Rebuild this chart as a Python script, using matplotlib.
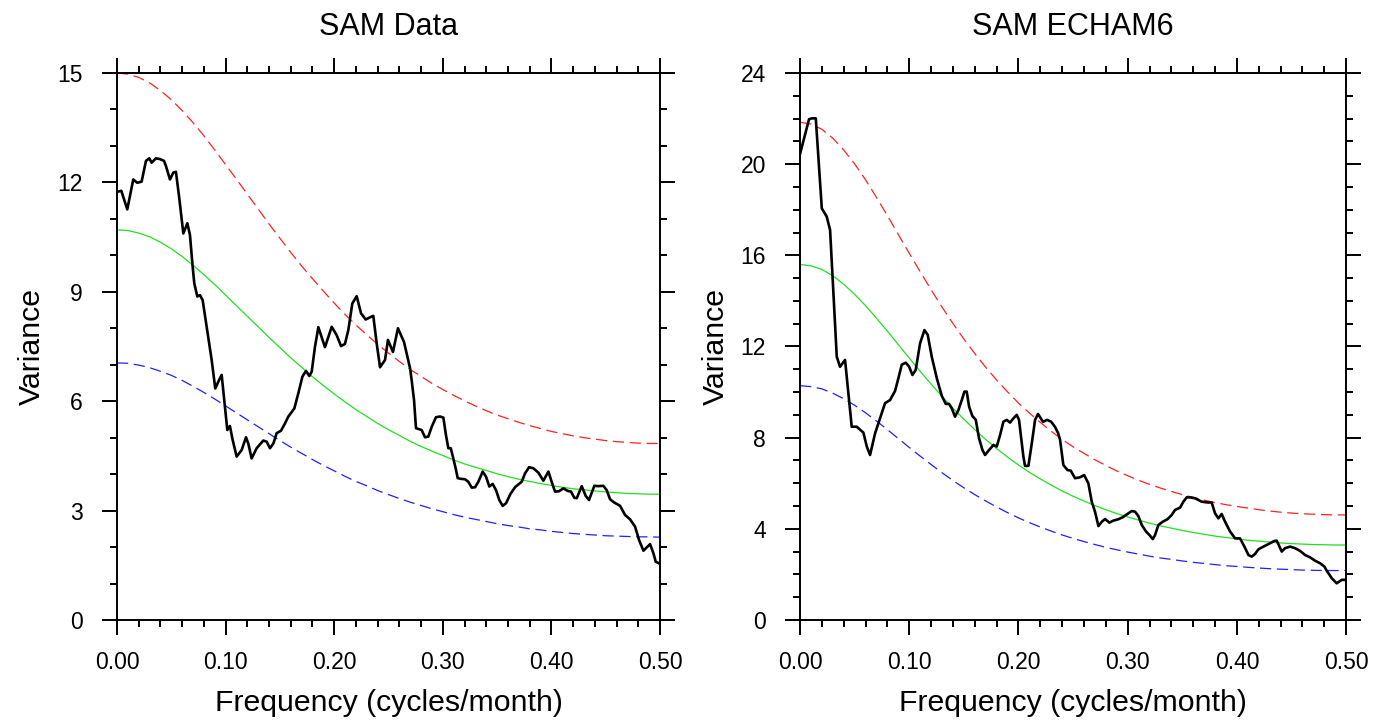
import matplotlib
matplotlib.use('Agg')
import matplotlib.pyplot as plt
from matplotlib.ticker import MultipleLocator

plt.rcParams['font.family'] = ['Liberation Sans', 'DejaVu Sans']

# frequencies for the smooth reference curves (0.00 .. 0.50 every 0.01)
curve_f = [i / 100 for i in range(51)]

# ---- SAM Data ----
data_red = [15.00, 14.97, 14.88, 14.73, 14.52, 14.27, 13.97, 13.64, 13.28, 12.89, 12.49,
            12.09, 11.68, 11.27, 10.86, 10.47, 10.08, 9.71, 9.36, 9.02, 8.69,
            8.38, 8.09, 7.82, 7.56, 7.32, 7.09, 6.87, 6.68, 6.49, 6.32,
            6.16, 6.01, 5.87, 5.74, 5.62, 5.52, 5.42, 5.33, 5.25, 5.17,
            5.11, 5.05, 5.00, 4.96, 4.92, 4.89, 4.87, 4.85, 4.84, 4.84]
data_green = [10.70, 10.68, 10.61, 10.51, 10.36, 10.18, 9.97, 9.73, 9.47, 9.20, 8.91,
              8.62, 8.33, 8.04, 7.75, 7.47, 7.19, 6.93, 6.67, 6.43, 6.20,
              5.98, 5.77, 5.58, 5.39, 5.22, 5.06, 4.90, 4.76, 4.63, 4.51,
              4.39, 4.28, 4.19, 4.10, 4.01, 3.93, 3.86, 3.80, 3.74, 3.69,
              3.64, 3.60, 3.57, 3.54, 3.51, 3.49, 3.47, 3.46, 3.45, 3.45]
data_blue = [7.05, 7.04, 6.99, 6.92, 6.82, 6.71, 6.57, 6.41, 6.24, 6.06, 5.87,
             5.68, 5.49, 5.30, 5.11, 4.92, 4.74, 4.57, 4.40, 4.24, 4.09,
             3.94, 3.80, 3.68, 3.55, 3.44, 3.33, 3.23, 3.14, 3.05, 2.97,
             2.89, 2.82, 2.76, 2.70, 2.64, 2.59, 2.55, 2.50, 2.47, 2.43,
             2.40, 2.37, 2.35, 2.33, 2.31, 2.30, 2.29, 2.28, 2.28, 2.27]

data_f = [0.0, 0.004, 0.0095, 0.015, 0.0187, 0.0227, 0.0267, 0.0298, 0.0319, 0.0359, 0.0396, 0.0433,
          0.0451, 0.0488, 0.0519, 0.0543, 0.0574, 0.0611, 0.0648, 0.0672, 0.0697, 0.0712, 0.074,
          0.0764, 0.0789, 0.0826, 0.0872, 0.0905, 0.0948, 0.0964, 0.0994, 0.1016, 0.104, 0.1065,
          0.1102, 0.1148, 0.1188, 0.1209, 0.124, 0.1286, 0.1347, 0.1378, 0.1409, 0.144, 0.147,
          0.151, 0.1547, 0.1578, 0.1633, 0.167, 0.1707, 0.174, 0.1771, 0.1793, 0.1823, 0.1854,
          0.1915, 0.1977, 0.2023, 0.2063, 0.2099, 0.213, 0.2167, 0.2207, 0.2247, 0.229, 0.233,
          0.236, 0.2391, 0.2422, 0.2468, 0.2495, 0.2541, 0.2587, 0.2643, 0.2698, 0.2713, 0.2735,
          0.2753, 0.2784, 0.2805, 0.2836, 0.2867, 0.2898, 0.2937, 0.2974, 0.3005, 0.3029, 0.3051,
          0.3073, 0.3091, 0.3122, 0.3137, 0.3168, 0.3204, 0.3235, 0.3266, 0.3297, 0.3327, 0.3367,
          0.3398, 0.3428, 0.3459, 0.349, 0.352, 0.3551, 0.3582, 0.3625, 0.3668, 0.3726, 0.3757,
          0.3794, 0.3834, 0.388, 0.3926, 0.3972, 0.4002, 0.4033, 0.407, 0.411, 0.415, 0.418,
          0.4211, 0.4233, 0.4279, 0.4316, 0.4346, 0.4395, 0.4432, 0.4478, 0.4509, 0.454, 0.4579,
          0.4632, 0.4678, 0.4724, 0.477, 0.4807, 0.4847, 0.4877, 0.4908, 0.4939, 0.496, 0.5]
data_var = [11.74, 11.77, 11.26, 12.08, 11.99, 12.02, 12.59, 12.66, 12.54, 12.66, 12.64, 12.59,
            12.45, 12.08, 12.27, 12.29, 11.56, 10.60, 10.88, 10.56, 9.69, 9.23, 8.87,
            8.91, 8.77, 8.04, 7.13, 6.35, 6.63, 6.72, 5.85, 5.21, 5.32, 4.94,
            4.48, 4.66, 5.01, 4.84, 4.43, 4.71, 4.92, 4.89, 4.71, 4.84, 5.12,
            5.19, 5.39, 5.58, 5.80, 6.22, 6.67, 6.83, 6.69, 6.81, 7.49, 8.03,
            7.48, 8.04, 7.81, 7.51, 7.57, 7.95, 8.68, 8.88, 8.41, 8.24, 8.30,
            8.34, 7.59, 6.93, 7.13, 7.68, 7.35, 8.00, 7.62, 6.91, 6.58, 6.03,
            5.26, 5.23, 5.21, 5.01, 5.03, 5.30, 5.56, 5.58, 5.55, 5.07, 4.71,
            4.71, 4.50, 4.11, 3.89, 3.87, 3.86, 3.79, 3.63, 3.64, 3.79, 4.07,
            3.93, 3.66, 3.73, 3.56, 3.29, 3.13, 3.20, 3.47, 3.65, 3.79, 4.02,
            4.19, 4.16, 4.04, 3.82, 4.07, 3.79, 3.52, 3.53, 3.61, 3.54, 3.52,
            3.35, 3.34, 3.67, 3.40, 3.29, 3.68, 3.67, 3.68, 3.56, 3.31, 3.22,
            3.13, 2.88, 2.76, 2.56, 2.19, 1.90, 1.99, 2.08, 1.83, 1.60, 1.54]

# ---- SAM ECHAM6 ----
echam_red = [21.84, 21.76, 21.53, 21.14, 20.62, 20.01, 19.31, 18.54, 17.74, 16.91, 16.09,
             15.28, 14.49, 13.73, 13.01, 12.33, 11.69, 11.09, 10.53, 10.01, 9.52,
             9.08, 8.67, 8.28, 7.92, 7.60, 7.31, 7.03, 6.78, 6.54, 6.33,
             6.13, 5.95, 5.79, 5.64, 5.50, 5.38, 5.26, 5.15, 5.06, 4.98,
             4.91, 4.84, 4.78, 4.73, 4.69, 4.66, 4.64, 4.62, 4.61, 4.61]
echam_green = [15.60, 15.54, 15.38, 15.10, 14.73, 14.29, 13.79, 13.24, 12.67, 12.08, 11.49,
               10.91, 10.35, 9.81, 9.29, 8.81, 8.35, 7.92, 7.52, 7.15, 6.80,
               6.48, 6.19, 5.92, 5.66, 5.43, 5.22, 5.02, 4.84, 4.67, 4.52,
               4.38, 4.25, 4.13, 4.03, 3.93, 3.84, 3.76, 3.68, 3.62, 3.56,
               3.50, 3.46, 3.42, 3.38, 3.35, 3.33, 3.31, 3.30, 3.29, 3.29]
echam_blue = [10.28, 10.24, 10.14, 9.95, 9.71, 9.42, 9.09, 8.73, 8.35, 7.96, 7.57,
              7.19, 6.82, 6.46, 6.12, 5.80, 5.50, 5.22, 4.96, 4.71, 4.48,
              4.27, 4.08, 3.90, 3.73, 3.58, 3.44, 3.31, 3.19, 3.08, 2.98,
              2.89, 2.80, 2.72, 2.66, 2.59, 2.53, 2.48, 2.43, 2.38, 2.35,
              2.31, 2.28, 2.25, 2.23, 2.21, 2.19, 2.18, 2.17, 2.17, 2.17]

echam_f = [0.0, 0.0082, 0.0107, 0.0144, 0.0199, 0.0244, 0.0275, 0.0336, 0.0366, 0.0412, 0.0473,
           0.0519, 0.058, 0.0611, 0.0641, 0.0687, 0.0733, 0.0778, 0.0824, 0.087, 0.09, 0.0931,
           0.0968, 0.0998, 0.1029, 0.1059, 0.1099, 0.1139, 0.1169, 0.1206, 0.1252, 0.1298, 0.1334,
           0.1364, 0.1389, 0.1419, 0.145, 0.1481, 0.1505, 0.1526, 0.1548, 0.1578, 0.1609, 0.1639,
           0.167, 0.1694, 0.1731, 0.1771, 0.1801, 0.1832, 0.1862, 0.1893, 0.1923, 0.1954, 0.1984,
           0.2005, 0.2045, 0.206, 0.2091, 0.2122, 0.2152, 0.2179, 0.2225, 0.2262, 0.2299, 0.2335,
           0.2363, 0.2381, 0.2411, 0.2448, 0.2479, 0.2518, 0.2564, 0.2601, 0.264, 0.2671, 0.2701,
           0.2732, 0.2763, 0.2793, 0.2833, 0.2869, 0.2915, 0.2955, 0.2998, 0.3037, 0.3068, 0.3098,
           0.3129, 0.3168, 0.3199, 0.323, 0.3251, 0.3281, 0.3321, 0.3364, 0.3404, 0.3434, 0.348,
           0.351, 0.3541, 0.3571, 0.3617, 0.3678, 0.3724, 0.377, 0.38, 0.3831, 0.3861, 0.3892,
           0.3938, 0.3984, 0.4029, 0.4069, 0.4106, 0.4136, 0.4167, 0.4197, 0.4243, 0.4289, 0.4344,
           0.4365, 0.4411, 0.4441, 0.4487, 0.4533, 0.4579, 0.4625, 0.467, 0.4716, 0.4762, 0.4802,
           0.4823, 0.4869, 0.4914, 0.496, 0.5]
echam_var = [20.45, 21.97, 22.01, 22.01, 18.06, 17.70, 17.11, 11.55, 11.11, 11.41, 8.48,
             8.48, 8.22, 7.61, 7.24, 8.19, 8.85, 9.51, 9.65, 10.05, 10.60, 11.20,
             11.29, 11.12, 10.75, 10.97, 12.14, 12.72, 12.51, 11.55, 10.61, 9.83, 9.48,
             9.48, 9.29, 8.92, 9.21, 9.65, 10.02, 10.02, 9.36, 8.95, 8.78, 7.97,
             7.46, 7.24, 7.46, 7.68, 7.61, 8.12, 8.70, 8.78, 8.66, 8.85, 9.00,
             8.78, 7.17, 6.76, 6.76, 7.75, 8.78, 9.04, 8.69, 8.78, 8.70, 8.47,
             8.20, 7.90, 6.80, 6.58, 6.55, 6.22, 6.26, 6.36, 6.00, 5.19, 4.75,
             4.12, 4.31, 4.43, 4.27, 4.36, 4.42, 4.51, 4.65, 4.78, 4.75, 4.56,
             4.17, 3.88, 3.73, 3.55, 3.73, 4.17, 4.31, 4.42, 4.61, 4.83, 4.93,
             5.19, 5.38, 5.38, 5.34, 5.19, 5.16, 5.15, 4.68, 4.46, 4.65, 4.31,
             3.88, 3.58, 3.58, 3.22, 2.85, 2.78, 2.90, 3.10, 3.22, 3.33, 3.47,
             3.48, 3.00, 3.15, 3.22, 3.15, 3.03, 2.85, 2.75, 2.60, 2.49, 2.34,
             2.16, 1.83, 1.61, 1.76, 1.76]


def draw_panel(ax, title, f, var, red, green, blue, ymax, ystep):
	ax.plot(curve_f, red, color='#ff2020', lw=0.9, dashes=(9, 4.5))
	ax.plot(curve_f, green, color='#20e020', lw=0.9)
	ax.plot(curve_f, blue, color='#2020ff', lw=0.9, dashes=(9, 4.5))
	ax.plot(f, var, color='black', lw=1.9)
	ax.set_xlim(0, 0.5)
	ax.set_ylim(0, ymax)
	ax.xaxis.set_major_locator(MultipleLocator(0.1))
	ax.xaxis.set_minor_locator(MultipleLocator(0.02))
	ax.yaxis.set_major_locator(MultipleLocator(ystep))
	ax.yaxis.set_minor_locator(MultipleLocator(1))
	ax.xaxis.set_major_formatter(plt.FormatStrFormatter('%.2f'))
	ax.tick_params(which='both', direction='out', top=True, right=True, width=1.4)
	ax.tick_params(which='major', length=10.5, labelsize=16.5)
	ax.tick_params(axis='x', which='major', pad=11.5)
	ax.tick_params(axis='y', which='major', pad=14)
	ax.tick_params(which='minor', length=5)
	for s in ax.spines.values():
		s.set_linewidth(1.4)
	ax.set_title(title, fontsize=22, pad=27)
	ax.set_xlabel('Frequency (cycles/month)', fontsize=21.8, labelpad=11)
	ax.set_ylabel('Variance', fontsize=21.8, labelpad=8)


fig = plt.figure(figsize=(13.89, 7.22), dpi=100)
ax1 = fig.add_axes([0.0842, 0.1413, 0.3910, 0.7576])
ax2 = fig.add_axes([0.5760, 0.1413, 0.3931, 0.7576])

draw_panel(ax1, 'SAM Data', data_f, data_var, data_red, data_green, data_blue, 15, 3)
draw_panel(ax2, 'SAM ECHAM6', echam_f, echam_var, echam_red, echam_green, echam_blue, 24, 4)

fig.savefig('out.png', dpi=100)
